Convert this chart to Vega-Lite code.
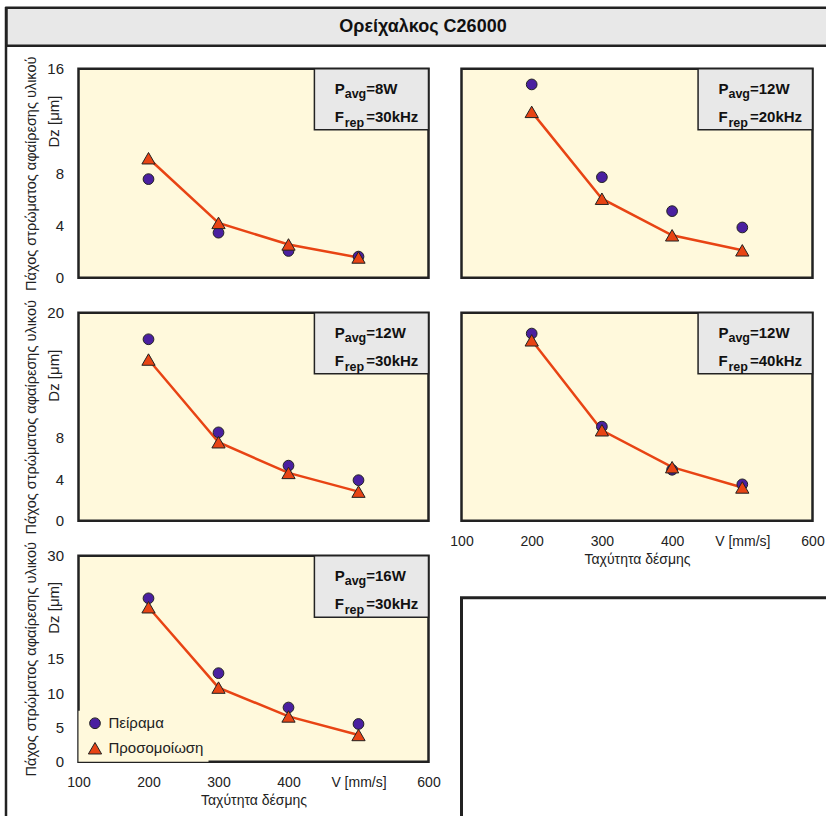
{
  "$schema": "https://vega.github.io/schema/vega-lite/v6.json",
  "padding": {"left": 4.5, "top": 5.75, "right": 0, "bottom": 0},
  "background": "white",
  "config": {
    "font": "Liberation Sans",
    "view": {"stroke": null},
    "axis": {"domain": false, "ticks": false, "labelFontSize": 14, "titleFontSize": 14, "titleFontWeight": "normal", "labelColor": "#222222", "titleColor": "#222222", "gridColor": "#a9a9a9", "gridWidth": 1.5, "labelFlush": false, "labelOverlap": false},
    "axisX": {"labelPadding": 14, "titlePadding": 4},
    "axisY": {"labelPadding": 15, "titlePadding": 8, "labelFontSize": 15, "titleFontSize": 14.5}
  },
  "datasets": {
    "pts": [
      {"panel": "p1", "v": 200, "dz": 7.55, "s": "Πείραμα"},
      {"panel": "p1", "v": 300, "dz": 3.45, "s": "Πείραμα"},
      {"panel": "p1", "v": 400, "dz": 2.05, "s": "Πείραμα"},
      {"panel": "p1", "v": 500, "dz": 1.62, "s": "Πείραμα"},
      {"panel": "p1", "v": 200, "dz": 9.15, "s": "Προσομοίωση"},
      {"panel": "p1", "v": 300, "dz": 4.2, "s": "Προσομοίωση"},
      {"panel": "p1", "v": 400, "dz": 2.55, "s": "Προσομοίωση"},
      {"panel": "p1", "v": 500, "dz": 1.55, "s": "Προσομοίωση"},
      {"panel": "p2", "v": 200, "dz": 14.8, "s": "Πείραμα"},
      {"panel": "p2", "v": 300, "dz": 7.7, "s": "Πείραμα"},
      {"panel": "p2", "v": 400, "dz": 5.1, "s": "Πείραμα"},
      {"panel": "p2", "v": 500, "dz": 3.85, "s": "Πείραμα"},
      {"panel": "p2", "v": 200, "dz": 12.7, "s": "Προσομοίωση"},
      {"panel": "p2", "v": 300, "dz": 6.05, "s": "Προσομοίωση"},
      {"panel": "p2", "v": 400, "dz": 3.25, "s": "Προσομοίωση"},
      {"panel": "p2", "v": 500, "dz": 2.1, "s": "Προσομοίωση"},
      {"panel": "p3", "v": 200, "dz": 17.45, "s": "Πείραμα"},
      {"panel": "p3", "v": 300, "dz": 8.5, "s": "Πείραμα"},
      {"panel": "p3", "v": 400, "dz": 5.3, "s": "Πείραμα"},
      {"panel": "p3", "v": 500, "dz": 3.9, "s": "Πείραμα"},
      {"panel": "p3", "v": 200, "dz": 15.5, "s": "Προσομοίωση"},
      {"panel": "p3", "v": 300, "dz": 7.55, "s": "Προσομοίωση"},
      {"panel": "p3", "v": 400, "dz": 4.6, "s": "Προσομοίωση"},
      {"panel": "p3", "v": 500, "dz": 2.8, "s": "Προσομοίωση"},
      {"panel": "p4", "v": 200, "dz": 18.0, "s": "Πείραμα"},
      {"panel": "p4", "v": 300, "dz": 9.05, "s": "Πείραμα"},
      {"panel": "p4", "v": 400, "dz": 4.9, "s": "Πείραμα"},
      {"panel": "p4", "v": 500, "dz": 3.5, "s": "Πείραμα"},
      {"panel": "p4", "v": 200, "dz": 17.35, "s": "Προσομοίωση"},
      {"panel": "p4", "v": 300, "dz": 8.7, "s": "Προσομοίωση"},
      {"panel": "p4", "v": 400, "dz": 5.15, "s": "Προσομοίωση"},
      {"panel": "p4", "v": 500, "dz": 3.2, "s": "Προσομοίωση"},
      {"panel": "p5", "v": 200, "dz": 23.8, "s": "Πείραμα"},
      {"panel": "p5", "v": 300, "dz": 12.9, "s": "Πείραμα"},
      {"panel": "p5", "v": 400, "dz": 7.9, "s": "Πείραμα"},
      {"panel": "p5", "v": 500, "dz": 5.5, "s": "Πείραμα"},
      {"panel": "p5", "v": 200, "dz": 22.5, "s": "Προσομοίωση"},
      {"panel": "p5", "v": 300, "dz": 10.8, "s": "Προσομοίωση"},
      {"panel": "p5", "v": 400, "dz": 6.6, "s": "Προσομοίωση"},
      {"panel": "p5", "v": 500, "dz": 3.9, "s": "Προσομοίωση"}
    ]
  },
  "spacing": 0,
  "bounds": "flush",
  "resolve": {"scale": {"color": "independent", "shape": "independent", "size": "independent"}, "legend": {"color": "independent", "shape": "independent", "size": "independent"}},
  "hconcat": [
    {
      "width": 1, "height": 830,
      "view": {"stroke": "#222222", "strokeWidth": 1.5, "fill": null},
      "data": {"values": [{}]},
      "mark": {"type": "text", "text": ""},
      "encoding": {}
    },
    {
      "spacing": 23,
      "bounds": "flush",
      "resolve": {"scale": {"color": "independent", "shape": "independent", "size": "independent"}, "legend": {"color": "independent", "shape": "independent", "size": "independent"}},
      "vconcat": [
        {
          "width": 833, "height": 38,
          "view": {"fill": "#e8e8e8", "stroke": "#222222", "strokeWidth": 2.5},
          "data": {"values": [{}]},
          "mark": {"type": "text", "text": "Ορείχαλκος C26000", "fontSize": 18, "fontWeight": "bold", "color": "#111111"},
          "encoding": {}
        },
        {
          "spacing": 71,
          "bounds": "flush",
          "resolve": {"scale": {"color": "independent", "shape": "independent", "size": "independent"}, "legend": {"color": "independent", "shape": "independent", "size": "independent"}},
          "hconcat": [
            {
              "width": 1, "height": 1,
              "data": {"values": [{}]},
              "mark": {"type": "text", "text": ""},
              "encoding": {}
            },
            {
              "columns": 2,
              "spacing": {"row": 35, "column": 33},
              "bounds": "flush",
              "align": "each",
              "resolve": {"scale": {"color": "independent", "shape": "independent", "size": "independent"}, "legend": {"color": "independent", "shape": "independent", "size": "independent"}},
              "concat": [
                {
                  "width": 350, "height": 209,
                  "view": {"fill": "#fff9dc", "stroke": "#222222", "strokeWidth": 2.5},
                  "resolve": {"axis": {"y": "independent"}},
                  "layer": [
                    {"data": {"values": [{}]}, "mark": {"type": "rect", "fill": "#e8e8e8", "stroke": "#222222", "strokeWidth": 1.5}, "encoding": {"x": {"datum": 437, "type": "quantitative"}, "x2": {"datum": 600}, "y": {"datum": 16, "type": "quantitative", "axis": null}, "y2": {"datum": 11.33}}},
                    {"data": {"name": "pts"}, "transform": [{"filter": "datum.panel == 'p1' && datum.s == 'Προσομοίωση'"}], "mark": {"type": "line", "color": "#e84414", "strokeWidth": 2.5},
                      "encoding": {"x": {"field": "v", "type": "quantitative"}, "y": {"field": "dz", "type": "quantitative", "axis": {"orient": "left", "values": [12], "labelExpr": "'Dz [μm]'", "labelAngle": -90, "labelAlign": "center", "labelBaseline": "bottom", "labelPadding": 17, "grid": false, "title": null, "labelOverlap": false}}}},
                    {"data": {"name": "pts"}, "transform": [{"filter": "datum.panel == 'p1'"}], "mark": {"type": "point", "filled": true, "opacity": 1, "stroke": "#222222", "strokeWidth": 1},
                      "encoding": {
                        "x": {"field": "v", "type": "quantitative", "scale": {"domain": [100, 600], "nice": false, "zero": false}, "axis": {"values": [200, 300, 400, 500], "labels": false, "title": null}},
                        "y": {"field": "dz", "type": "quantitative", "scale": {"domain": [0, 16], "nice": false}, "axis": {"orient": "left", "values": [0, 4, 8, 12, 16], "labelOverlap": false, "title": "Πάχος στρώματος αφαίρεσης υλικού", "labelExpr": "datum.value == 12 ? '' : datum.label", "gridOpacity": {"condition": {"test": "datum.value == 0 || datum.value == 16", "value": 0}, "value": 1}}},
                        "color": {"field": "s", "type": "nominal", "scale": {"domain": ["Πείραμα", "Προσομοίωση"], "range": ["#4a20a0", "#e84414"]}, "legend": null},
                        "shape": {"field": "s", "type": "nominal", "scale": {"domain": ["Πείραμα", "Προσομοίωση"], "range": ["circle", "triangle-up"]}, "legend": null},
                        "size": {"field": "s", "type": "nominal", "scale": {"domain": ["Πείραμα", "Προσομοίωση"], "range": [115, 175]}, "legend": null}
                      }},
                    {"data": {"values": [{}]}, "mark": {"type": "text", "text": ["P", "F"], "lineHeight": 28.4, "align": "left", "baseline": "alphabetic", "dy": 25.3, "fontSize": 15, "fontWeight": "bold", "color": "#111111"}, "encoding": {"x": {"datum": 466, "type": "quantitative"}, "y": {"datum": 16, "type": "quantitative", "axis": null}}},
                    {"data": {"values": [{}]}, "mark": {"type": "text", "text": ["avg", "rep"], "lineHeight": 28.4, "align": "left", "baseline": "alphabetic", "dx": 10, "dy": 29.5, "fontSize": 12.5, "fontWeight": "bold", "color": "#111111"}, "encoding": {"x": {"datum": 466, "type": "quantitative"}, "y": {"datum": 16, "type": "quantitative", "axis": null}}},
                    {"data": {"values": [{}]}, "mark": {"type": "text", "text": ["=8W", "=30kHz"], "lineHeight": 28.4, "align": "left", "baseline": "alphabetic", "dx": 31.5, "dy": 25.3, "fontSize": 15, "fontWeight": "bold", "color": "#111111"}, "encoding": {"x": {"datum": 466, "type": "quantitative"}, "y": {"datum": 16, "type": "quantitative", "axis": null}}}
                  ]
                },
                {
                  "width": 351, "height": 209,
                  "view": {"fill": "#fff9dc", "stroke": "#222222", "strokeWidth": 2.5},
                  "layer": [
                    {"data": {"values": [{}]}, "mark": {"type": "rect", "fill": "#e8e8e8", "stroke": "#222222", "strokeWidth": 1.5}, "encoding": {"x": {"datum": 437, "type": "quantitative"}, "x2": {"datum": 600}, "y": {"datum": 16, "type": "quantitative"}, "y2": {"datum": 11.33}}},
                    {"data": {"name": "pts"}, "transform": [{"filter": "datum.panel == 'p2' && datum.s == 'Προσομοίωση'"}], "mark": {"type": "line", "color": "#e84414", "strokeWidth": 2.5}, "encoding": {"x": {"field": "v", "type": "quantitative"}, "y": {"field": "dz", "type": "quantitative"}}},
                    {"data": {"name": "pts"}, "transform": [{"filter": "datum.panel == 'p2'"}], "mark": {"type": "point", "filled": true, "opacity": 1, "stroke": "#222222", "strokeWidth": 1},
                      "encoding": {
                        "x": {"field": "v", "type": "quantitative", "scale": {"domain": [100, 600], "nice": false, "zero": false}, "axis": {"values": [200, 300, 400, 500], "labels": false, "title": null}},
                        "y": {"field": "dz", "type": "quantitative", "scale": {"domain": [0, 16], "nice": false}, "axis": {"values": [4, 8, 12], "labels": false, "title": null}},
                        "color": {"field": "s", "type": "nominal", "scale": {"domain": ["Πείραμα", "Προσομοίωση"], "range": ["#4a20a0", "#e84414"]}, "legend": null},
                        "shape": {"field": "s", "type": "nominal", "scale": {"domain": ["Πείραμα", "Προσομοίωση"], "range": ["circle", "triangle-up"]}, "legend": null},
                        "size": {"field": "s", "type": "nominal", "scale": {"domain": ["Πείραμα", "Προσομοίωση"], "range": [115, 175]}, "legend": null}
                      }},
                    {"data": {"values": [{}]}, "mark": {"type": "text", "text": ["P", "F"], "lineHeight": 28.4, "align": "left", "baseline": "alphabetic", "dy": 25.3, "fontSize": 15, "fontWeight": "bold", "color": "#111111"}, "encoding": {"x": {"datum": 466, "type": "quantitative"}, "y": {"datum": 16, "type": "quantitative"}}},
                    {"data": {"values": [{}]}, "mark": {"type": "text", "text": ["avg", "rep"], "lineHeight": 28.4, "align": "left", "baseline": "alphabetic", "dx": 10, "dy": 29.5, "fontSize": 12.5, "fontWeight": "bold", "color": "#111111"}, "encoding": {"x": {"datum": 466, "type": "quantitative"}, "y": {"datum": 16, "type": "quantitative"}}},
                    {"data": {"values": [{}]}, "mark": {"type": "text", "text": ["=12W", "=20kHz"], "lineHeight": 28.4, "align": "left", "baseline": "alphabetic", "dx": 31.5, "dy": 25.3, "fontSize": 15, "fontWeight": "bold", "color": "#111111"}, "encoding": {"x": {"datum": 466, "type": "quantitative"}, "y": {"datum": 16, "type": "quantitative"}}}
                  ]
                },
                {
                  "width": 350, "height": 208,
                  "view": {"fill": "#fff9dc", "stroke": "#222222", "strokeWidth": 2.5},
                  "resolve": {"axis": {"y": "independent"}},
                  "layer": [
                    {"data": {"values": [{}]}, "mark": {"type": "rect", "fill": "#e8e8e8", "stroke": "#222222", "strokeWidth": 1.5}, "encoding": {"x": {"datum": 437, "type": "quantitative"}, "x2": {"datum": 600}, "y": {"datum": 20, "type": "quantitative", "axis": null}, "y2": {"datum": 14.13}}},
                    {"data": {"name": "pts"}, "transform": [{"filter": "datum.panel == 'p3' && datum.s == 'Προσομοίωση'"}], "mark": {"type": "line", "color": "#e84414", "strokeWidth": 2.5},
                      "encoding": {"x": {"field": "v", "type": "quantitative"}, "y": {"field": "dz", "type": "quantitative", "axis": {"orient": "left", "values": [14], "labelExpr": "'Dz [μm]'", "labelAngle": -90, "labelAlign": "center", "labelBaseline": "bottom", "labelPadding": 17, "grid": false, "title": null, "labelOverlap": false}}}},
                    {"data": {"name": "pts"}, "transform": [{"filter": "datum.panel == 'p3'"}], "mark": {"type": "point", "filled": true, "opacity": 1, "stroke": "#222222", "strokeWidth": 1},
                      "encoding": {
                        "x": {"field": "v", "type": "quantitative", "scale": {"domain": [100, 600], "nice": false, "zero": false}, "axis": {"values": [200, 300, 400, 500], "labels": false, "title": null}},
                        "y": {"field": "dz", "type": "quantitative", "scale": {"domain": [0, 20], "nice": false}, "axis": {"orient": "left", "values": [0, 4, 8, 12, 16, 20], "labelOverlap": false, "title": "Πάχος στρώματος αφαίρεσης υλικού", "labelExpr": "(datum.value == 12 || datum.value == 16) ? '' : datum.label", "gridOpacity": {"condition": {"test": "datum.value == 0 || datum.value == 20", "value": 0}, "value": 1}}},
                        "color": {"field": "s", "type": "nominal", "scale": {"domain": ["Πείραμα", "Προσομοίωση"], "range": ["#4a20a0", "#e84414"]}, "legend": null},
                        "shape": {"field": "s", "type": "nominal", "scale": {"domain": ["Πείραμα", "Προσομοίωση"], "range": ["circle", "triangle-up"]}, "legend": null},
                        "size": {"field": "s", "type": "nominal", "scale": {"domain": ["Πείραμα", "Προσομοίωση"], "range": [115, 175]}, "legend": null}
                      }},
                    {"data": {"values": [{}]}, "mark": {"type": "text", "text": ["P", "F"], "lineHeight": 28.4, "align": "left", "baseline": "alphabetic", "dy": 25.3, "fontSize": 15, "fontWeight": "bold", "color": "#111111"}, "encoding": {"x": {"datum": 466, "type": "quantitative"}, "y": {"datum": 20, "type": "quantitative", "axis": null}}},
                    {"data": {"values": [{}]}, "mark": {"type": "text", "text": ["avg", "rep"], "lineHeight": 28.4, "align": "left", "baseline": "alphabetic", "dx": 10, "dy": 29.5, "fontSize": 12.5, "fontWeight": "bold", "color": "#111111"}, "encoding": {"x": {"datum": 466, "type": "quantitative"}, "y": {"datum": 20, "type": "quantitative", "axis": null}}},
                    {"data": {"values": [{}]}, "mark": {"type": "text", "text": ["=12W", "=30kHz"], "lineHeight": 28.4, "align": "left", "baseline": "alphabetic", "dx": 31.5, "dy": 25.3, "fontSize": 15, "fontWeight": "bold", "color": "#111111"}, "encoding": {"x": {"datum": 466, "type": "quantitative"}, "y": {"datum": 20, "type": "quantitative", "axis": null}}}
                  ]
                },
                {
                  "width": 351, "height": 208,
                  "view": {"fill": "#fff9dc", "stroke": "#222222", "strokeWidth": 2.5},
                  "layer": [
                    {"data": {"values": [{}]}, "mark": {"type": "rect", "fill": "#e8e8e8", "stroke": "#222222", "strokeWidth": 1.5}, "encoding": {"x": {"datum": 437, "type": "quantitative"}, "x2": {"datum": 600}, "y": {"datum": 20, "type": "quantitative"}, "y2": {"datum": 14.13}}},
                    {"data": {"name": "pts"}, "transform": [{"filter": "datum.panel == 'p4' && datum.s == 'Προσομοίωση'"}], "mark": {"type": "line", "color": "#e84414", "strokeWidth": 2.5}, "encoding": {"x": {"field": "v", "type": "quantitative"}, "y": {"field": "dz", "type": "quantitative"}}},
                    {"data": {"name": "pts"}, "transform": [{"filter": "datum.panel == 'p4'"}], "mark": {"type": "point", "filled": true, "opacity": 1, "stroke": "#222222", "strokeWidth": 1},
                      "encoding": {
                        "x": {"field": "v", "type": "quantitative", "scale": {"domain": [100, 600], "nice": false, "zero": false}, "axis": {"values": [100, 200, 300, 400, 500, 600], "title": "Ταχύτητα δέσμης", "labelOverlap": false, "labelExpr": "datum.value == 500 ? 'V [mm/s]' : datum.label", "gridOpacity": {"condition": {"test": "datum.value == 100 || datum.value == 600", "value": 0}, "value": 1}}},
                        "y": {"field": "dz", "type": "quantitative", "scale": {"domain": [0, 20], "nice": false}, "axis": {"values": [4, 8, 12, 16], "labels": false, "title": null}},
                        "color": {"field": "s", "type": "nominal", "scale": {"domain": ["Πείραμα", "Προσομοίωση"], "range": ["#4a20a0", "#e84414"]}, "legend": null},
                        "shape": {"field": "s", "type": "nominal", "scale": {"domain": ["Πείραμα", "Προσομοίωση"], "range": ["circle", "triangle-up"]}, "legend": null},
                        "size": {"field": "s", "type": "nominal", "scale": {"domain": ["Πείραμα", "Προσομοίωση"], "range": [115, 175]}, "legend": null}
                      }},
                    {"data": {"values": [{}]}, "mark": {"type": "text", "text": ["P", "F"], "lineHeight": 28.4, "align": "left", "baseline": "alphabetic", "dy": 25.3, "fontSize": 15, "fontWeight": "bold", "color": "#111111"}, "encoding": {"x": {"datum": 466, "type": "quantitative"}, "y": {"datum": 20, "type": "quantitative"}}},
                    {"data": {"values": [{}]}, "mark": {"type": "text", "text": ["avg", "rep"], "lineHeight": 28.4, "align": "left", "baseline": "alphabetic", "dx": 10, "dy": 29.5, "fontSize": 12.5, "fontWeight": "bold", "color": "#111111"}, "encoding": {"x": {"datum": 466, "type": "quantitative"}, "y": {"datum": 20, "type": "quantitative"}}},
                    {"data": {"values": [{}]}, "mark": {"type": "text", "text": ["=12W", "=40kHz"], "lineHeight": 28.4, "align": "left", "baseline": "alphabetic", "dx": 31.5, "dy": 25.3, "fontSize": 15, "fontWeight": "bold", "color": "#111111"}, "encoding": {"x": {"datum": 466, "type": "quantitative"}, "y": {"datum": 20, "type": "quantitative"}}}
                  ]
                },
                {
                  "width": 350, "height": 206,
                  "view": {"fill": "#fff9dc", "stroke": "#222222", "strokeWidth": 2.5},
                  "resolve": {"axis": {"y": "independent"}},
                  "layer": [
                    {"data": {"values": [{}]}, "mark": {"type": "rect", "fill": "#e8e8e8", "stroke": "#222222", "strokeWidth": 1.5}, "encoding": {"x": {"datum": 437, "type": "quantitative"}, "x2": {"datum": 600}, "y": {"datum": 30, "type": "quantitative", "axis": null}, "y2": {"datum": 21.05}}},
                    {"data": {"name": "pts"}, "transform": [{"filter": "datum.panel == 'p5' && datum.s == 'Προσομοίωση'"}], "mark": {"type": "line", "color": "#e84414", "strokeWidth": 2.5},
                      "encoding": {"x": {"field": "v", "type": "quantitative"}, "y": {"field": "dz", "type": "quantitative", "axis": {"orient": "left", "values": [22.5], "labelExpr": "'Dz [μm]'", "labelAngle": -90, "labelAlign": "center", "labelBaseline": "bottom", "labelPadding": 17, "grid": false, "title": null, "labelOverlap": false}}}},
                    {"data": {"name": "pts"}, "transform": [{"filter": "datum.panel == 'p5'"}], "mark": {"type": "point", "filled": true, "opacity": 1, "stroke": "#222222", "strokeWidth": 1},
                      "encoding": {
                        "x": {"field": "v", "type": "quantitative", "scale": {"domain": [100, 600], "nice": false, "zero": false}, "axis": {"values": [100, 200, 300, 400, 500, 600], "title": "Ταχύτητα δέσμης", "labelOverlap": false, "labelExpr": "datum.value == 500 ? 'V [mm/s]' : datum.label", "gridOpacity": {"condition": {"test": "datum.value == 100 || datum.value == 600", "value": 0}, "value": 1}}},
                        "y": {"field": "dz", "type": "quantitative", "scale": {"domain": [0, 30], "nice": false}, "axis": {"orient": "left", "values": [0, 5, 10, 15, 20, 25, 30], "labelOverlap": false, "title": "Πάχος στρώματος αφαίρεσης υλικού", "labelExpr": "(datum.value == 20 || datum.value == 25) ? '' : datum.label", "gridOpacity": {"condition": {"test": "datum.value == 0 || datum.value == 30", "value": 0}, "value": 1}}},
                        "color": {"field": "s", "type": "nominal", "scale": {"domain": ["Πείραμα", "Προσομοίωση"], "range": ["#4a20a0", "#e84414"]}, "legend": {"orient": "bottom-left", "title": null, "fillColor": "#fff9dc", "padding": 5, "offset": 0, "labelFontSize": 15, "labelColor": "#222222", "rowPadding": 8, "labelOffset": 6, "symbolOffset": 4, "symbolStrokeColor": "#222222", "symbolStrokeWidth": 1}},
                        "shape": {"field": "s", "type": "nominal", "scale": {"domain": ["Πείραμα", "Προσομοίωση"], "range": ["circle", "triangle-up"]}},
                        "size": {"field": "s", "type": "nominal", "scale": {"domain": ["Πείραμα", "Προσομοίωση"], "range": [115, 175]}}
                      }},
                    {"data": {"values": [{}]}, "mark": {"type": "text", "text": ["P", "F"], "lineHeight": 28.4, "align": "left", "baseline": "alphabetic", "dy": 25.3, "fontSize": 15, "fontWeight": "bold", "color": "#111111"}, "encoding": {"x": {"datum": 466, "type": "quantitative"}, "y": {"datum": 30, "type": "quantitative", "axis": null}}},
                    {"data": {"values": [{}]}, "mark": {"type": "text", "text": ["avg", "rep"], "lineHeight": 28.4, "align": "left", "baseline": "alphabetic", "dx": 10, "dy": 29.5, "fontSize": 12.5, "fontWeight": "bold", "color": "#111111"}, "encoding": {"x": {"datum": 466, "type": "quantitative"}, "y": {"datum": 30, "type": "quantitative", "axis": null}}},
                    {"data": {"values": [{}]}, "mark": {"type": "text", "text": ["=16W", "=30kHz"], "lineHeight": 28.4, "align": "left", "baseline": "alphabetic", "dx": 31.5, "dy": 25.3, "fontSize": 15, "fontWeight": "bold", "color": "#111111"}, "encoding": {"x": {"datum": 466, "type": "quantitative"}, "y": {"datum": 30, "type": "quantitative", "axis": null}}}
                  ]
                },
                {
                  "spacing": 35,
                  "bounds": "flush",
                  "vconcat": [
                    {
                      "width": 1, "height": 7,
                      "data": {"values": [{}]},
                      "mark": {"type": "text", "text": ""},
                      "encoding": {}
                    },
                    {
                      "width": 420, "height": 260,
                      "view": {"fill": "white", "stroke": "#222222", "strokeWidth": 3},
                      "data": {"values": [{}]},
                      "mark": {"type": "text", "text": ""},
                      "encoding": {}
                    }
                  ]
                }
              ]
            }
          ]
        }
      ]
    }
  ]
}
